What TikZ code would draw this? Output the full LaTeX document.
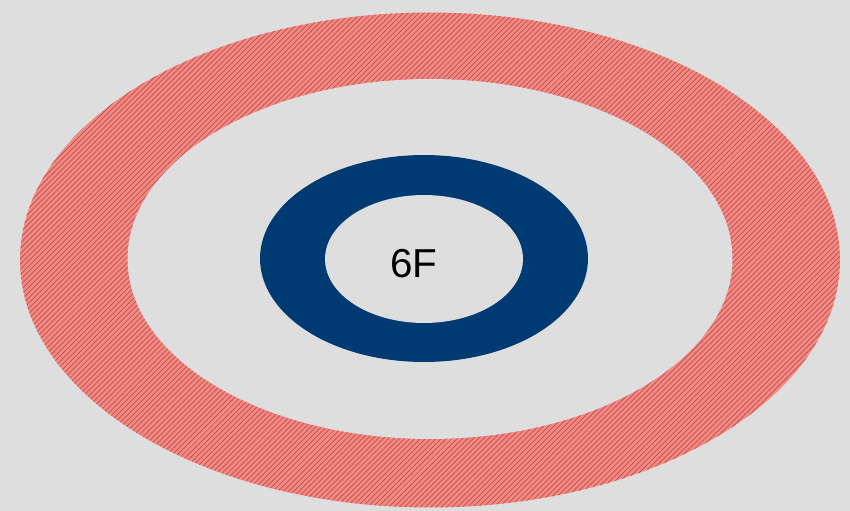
\documentclass[tikz,border=0pt]{standalone}
\usepackage{fontspec}
\setmainfont{Liberation Sans}
\usetikzlibrary{shapes.geometric,patterns}

\definecolor{bggray}{HTML}{DEDEDE}
\definecolor{ringpink}{HTML}{F08A84}
\definecolor{ringred}{HTML}{C84A48}
\definecolor{navy}{HTML}{003A72}

\begin{document}
\begin{tikzpicture}[
    x=0.02cm, y=-0.02cm,
    disc/.style={ellipse, inner sep=0pt, outer sep=0pt},
    hatched/.style={disc, preaction={fill=ringpink},
                    pattern=north east lines, pattern color=ringred},
    hole/.style={disc, fill=bggray},
    label/.style={font=\fontsize{23}{26}\selectfont, text=black},
]

    \fill[bggray] (0,0) rectangle (850,511);
    \useasboundingbox (0,0) rectangle (850,511);

    % outer hatched ring
    \node[hatched, minimum width=16.4cm, minimum height=9.9cm] (outerring) at (430,260) {};
    \node[hole, minimum width=12.1cm, minimum height=7.2cm] (outerhole) at (430,259) {};

    % inner blue ring
    \node[disc, fill=navy, minimum width=6.56cm, minimum height=4.14cm] (innerring) at (424,258.5) {};
    \node[hole, minimum width=3.96cm, minimum height=2.56cm] (innerhole) at (424,259) {};

    \node[label] (floor) at (414,264) {6F};

\end{tikzpicture}
\end{document}
